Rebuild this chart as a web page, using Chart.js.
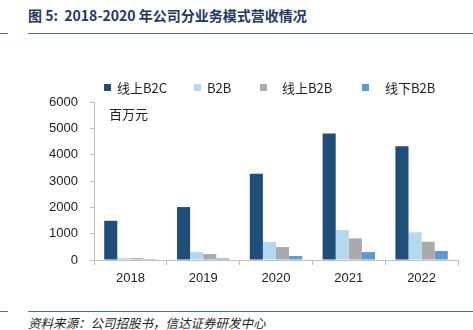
<!DOCTYPE html>
<html>
<head>
<meta charset="utf-8">
<script src="https://cdn.jsdelivr.net/npm/chart.js@4"></script>
<style>
  body { margin: 0; background: #fff; }
  #wrap { position: relative; width: 473px; height: 330px; overflow: hidden; font-family: "Noto Sans CJK SC", "Liberation Sans", sans-serif; }
  #title { position: absolute; left: 28px; top: 5px; font-size: 14px; font-weight: bold; color: #1f3864; white-space: pre; }
  .rule { position: absolute; height: 1px; background: #4f6f9f; }
  #unit { position: absolute; left: 109px; top: 104px; font-size: 13px; color: #222; }
  .lg { position: absolute; top: 78px; font-size: 13px; color: #222; white-space: nowrap; }
  .lg i { position: absolute; width: 7px; height: 7px; top: 6px; }
  #src { position: absolute; left: 28px; top: 313px; font-size: 12.5px; font-style: italic; color: #222; white-space: nowrap; }
  canvas { position: absolute; left: 0; top: 0; }
</style>
</head>
<body>
<div id="wrap">
  <div id="title">图 5:  2018-2020 年公司分业务模式营收情况</div>
  <div class="rule" style="left:0;top:33px;width:8px"></div>
  <div class="rule" style="left:28px;top:33px;width:445px"></div>
  <canvas id="chart" width="473" height="300"></canvas>
  <div id="unit">百万元</div>
  <div id="legend"></div>
  <div class="rule" style="left:0;top:311px;width:8px"></div>
  <div class="rule" style="left:28px;top:311px;width:445px"></div>
  <div id="src">资料来源：公司招股书，信达证券研发中心</div>
</div>
<script>
// 数据
const years = ['2018', '2019', '2020', '2021', '2022'];
const seriesNames = ['线上B2C', 'B2B', '线上B2B', '线下B2B'];
const onlineB2C = [1490, 2010, 3280, 4800, 4320];
const b2b = [75, 300, 680, 1135, 1050];
const onlineB2B = [70, 225, 490, 820, 695];
const offlineB2B = [5, 60, 150, 300, 340];
const yTicks = [0, 1000, 2000, 3000, 4000, 5000, 6000];

const colors = ['#1f4e79', '#b4d8ee', '#aaaaaa', '#5b9bd5'];
const legendX = [104, 194, 260, 362];
const legendGap = [13, 13, 22, 23];

// leyenda en html
var legend = document.getElementById('legend');
seriesNames.forEach(function(name, i) {
    var d = document.createElement('div');
    d.className = 'lg';
    d.style.left = legendX[i] + 'px';
    d.style.paddingLeft = legendGap[i] + 'px';
    d.innerHTML = '<i style="left:0;background:' + colors[i] + '"></i>' + name;
    legend.appendChild(d);
});

const allSeries = [onlineB2C, b2b, onlineB2B, offlineB2B];
const datasets = allSeries.map(function(values, i) {
    return {
        label: seriesNames[i],
        data: values,
        backgroundColor: colors[i],
        borderWidth: 0,
        categoryPercentage: 0.72,
        barPercentage: 1.0
    };
});

new Chart(document.getElementById('chart'), {
    type: 'bar',
    data: { labels: years, datasets: datasets },
    options: {
        responsive: false,
        animation: false,
        layout: { padding: { top: 102, right: 15, left: 0, bottom: 0 } },
        plugins: { legend: { display: false }, tooltip: { enabled: false } },
        scales: {
            x: {
                grid: { display: true, drawOnChartArea: false, drawTicks: true, tickLength: 5, color: '#bfbfbf', offset: true },
                border: { color: '#bfbfbf' },
                ticks: { color: '#222', padding: 6, font: { family: 'Liberation Sans', size: 13 } },
                afterFit: function(scale) { scale.height = 40; }
            },
            y: {
                min: 0,
                max: 6000,
                afterBuildTicks: function(scale) { scale.ticks = yTicks.map(function(v) { return { value: v }; }); },
                grid: { display: true, drawOnChartArea: false, drawTicks: true, tickLength: 4, color: '#bfbfbf' },
                border: { color: '#bfbfbf' },
                ticks: {
                    color: '#222', padding: 12, font: { family: 'Liberation Sans', size: 13 },
                    callback: function(v) { return String(v); }
                },
                afterFit: function(scale) { scale.width = 94; }
            }
        }
    }
});
</script>
</body>
</html>
